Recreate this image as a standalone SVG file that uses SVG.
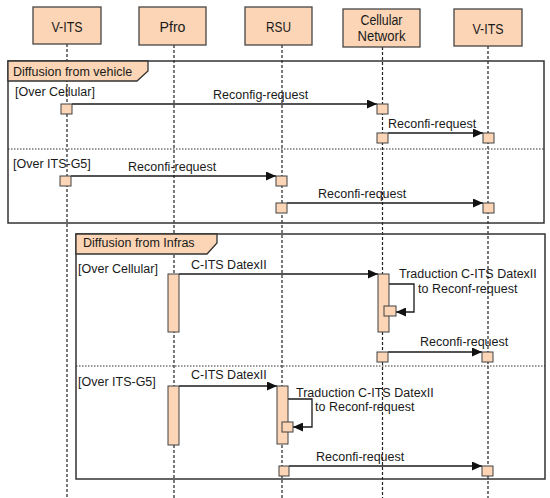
<svg xmlns="http://www.w3.org/2000/svg" width="550" height="498" viewBox="0 0 550 498">
<style>
.hdr{fill:#FBD5B5;stroke:#454545;stroke-width:1.3}
.act{fill:#FBD5B5;stroke:#404040;stroke-width:1}
.life{stroke:#222;stroke-width:1.2;stroke-dasharray:3,2;fill:none}
.frame{fill:none;stroke:#333;stroke-width:1.5}
.tab{fill:#FBD5B5;stroke:#333;stroke-width:1.3}
.div{stroke:#333;stroke-width:1;stroke-dasharray:1.5,1.5;fill:none}
.msg{stroke:#1a1a1a;stroke-width:1.3;fill:none;marker-end:url(#ah)}
.t{font-family:"Liberation Sans",Arial,sans-serif;font-size:12.5px;fill:#1a1a1a}
.h{font-family:"Liberation Sans",Arial,sans-serif;font-size:14px;fill:#1a1a1a;text-anchor:middle}
</style>
<defs>
<marker id="ah" markerUnits="userSpaceOnUse" markerWidth="11" markerHeight="9" refX="10" refY="4.5" orient="auto">
<path d="M0,0 L10,4.5 L0,9 z" fill="#111"/>
</marker>
</defs>

<g id="lifelines">
<line class="life" x1="67" y1="44" x2="67" y2="498"/>
<line class="life" x1="174" y1="45" x2="174" y2="498"/>
<line class="life" x1="282" y1="45" x2="282" y2="498"/>
<line class="life" x1="382.5" y1="47" x2="382.5" y2="498"/>
<line class="life" x1="488" y1="46" x2="488" y2="498"/>
</g>

<g id="p-vits1"><rect class="hdr" x="33" y="7" width="68" height="37"/><text class="h" x="67" y="32" textLength="31" lengthAdjust="spacingAndGlyphs">V-ITS</text></g>
<g id="p-pfro"><rect class="hdr" x="139" y="7" width="67" height="38"/><text class="h" x="172.5" y="32" textLength="26" lengthAdjust="spacingAndGlyphs">Pfro</text></g>
<g id="p-rsu"><rect class="hdr" x="245" y="7" width="67" height="38"/><text class="h" x="278.5" y="32" textLength="25" lengthAdjust="spacingAndGlyphs">RSU</text></g>
<g id="p-cell"><rect class="hdr" x="343" y="9" width="77" height="38"/><text class="h" x="381.5" y="25" textLength="42" lengthAdjust="spacingAndGlyphs">Cellular</text><text class="h" x="381.5" y="41" textLength="48" lengthAdjust="spacingAndGlyphs">Network</text></g>
<g id="p-vits2"><rect class="hdr" x="454" y="9" width="68" height="37"/><text class="h" x="488" y="34" textLength="31" lengthAdjust="spacingAndGlyphs">V-ITS</text></g>

<g id="frame-vehicle">
<rect class="frame" x="8" y="61" width="536" height="162"/>
<polygon class="tab" points="8,61 148,61 148,71 137,81 8,81"/>
<text class="t" x="13" y="76">Diffusion from vehicle</text>
<line class="div" x1="8" y1="149" x2="544" y2="149"/>
<text class="t" x="15" y="96">[Over Cellular]</text>
<text class="t" x="13" y="168">[Over ITS-G5]</text>
</g>

<g id="frame-infras">
<rect class="frame" x="76" y="234" width="469" height="245"/>
<polygon class="tab" points="76,234 217,234 217,243 207,254 76,254"/>
<text class="t" x="83" y="247">Diffusion from Infras</text>
<line class="div" x1="76" y1="366" x2="545" y2="366"/>
<text class="t" x="78" y="273">[Over Cellular]</text>
<text class="t" x="78" y="386">[Over ITS-G5]</text>
</g>

<g id="connectors">
<line class="msg" x1="72" y1="104" x2="377" y2="104"/>
<line class="msg" x1="388" y1="133" x2="483" y2="133"/>
<line class="msg" x1="71" y1="176" x2="276" y2="176"/>
<line class="msg" x1="287" y1="203" x2="483" y2="203"/>
<line class="msg" x1="179" y1="274" x2="378" y2="274"/>
<path class="msg" d="M389,284 H414 V312 H396"/>
<line class="msg" x1="388" y1="352" x2="482" y2="352"/>
<line class="msg" x1="179" y1="386" x2="277" y2="386"/>
<path class="msg" d="M288,399 H312 V427 H293"/>
<line class="msg" x1="289" y1="466" x2="482" y2="466"/>
</g>

<g id="labels">
<text class="t" x="213" y="99">Reconfig-request</text>
<text class="t" x="388" y="128">Reconfi-request</text>
<text class="t" x="128" y="171">Reconfi-request</text>
<text class="t" x="318" y="198">Reconfi-request</text>
<text class="t" x="191" y="269">C-ITS DatexII</text>
<text class="t" x="399" y="278">Traduction C-ITS DatexII</text>
<text class="t" x="418" y="293">to Reconf-request</text>
<text class="t" x="420" y="346">Reconfi-request</text>
<text class="t" x="191" y="379">C-ITS DatexII</text>
<text class="t" x="296" y="397">Traduction C-ITS DatexII</text>
<text class="t" x="315" y="411">to Reconf-request</text>
<text class="t" x="316" y="461">Reconfi-request</text>
</g>

<g id="activations">
<rect class="act" x="61" y="104" width="11" height="10"/>
<rect class="act" x="377" y="104" width="11" height="10"/>
<rect class="act" x="377" y="133" width="11" height="10"/>
<rect class="act" x="483" y="133" width="11" height="10"/>
<rect class="act" x="60" y="176" width="11" height="10"/>
<rect class="act" x="276" y="176" width="11" height="10"/>
<rect class="act" x="276" y="203" width="11" height="10"/>
<rect class="act" x="483" y="203" width="11" height="10"/>
<rect class="act" x="168" y="274" width="11" height="58"/>
<rect class="act" x="378" y="274" width="11" height="58"/>
<rect class="act" x="384" y="306" width="12" height="10"/>
<rect class="act" x="377" y="352" width="11" height="10"/>
<rect class="act" x="482" y="352" width="11" height="10"/>
<rect class="act" x="168" y="386" width="11" height="59"/>
<rect class="act" x="277" y="386" width="11" height="58"/>
<rect class="act" x="282" y="422" width="11" height="10"/>
<rect class="act" x="279" y="466" width="10" height="10"/>
<rect class="act" x="482" y="466" width="11" height="10"/>
</g>
</svg>
